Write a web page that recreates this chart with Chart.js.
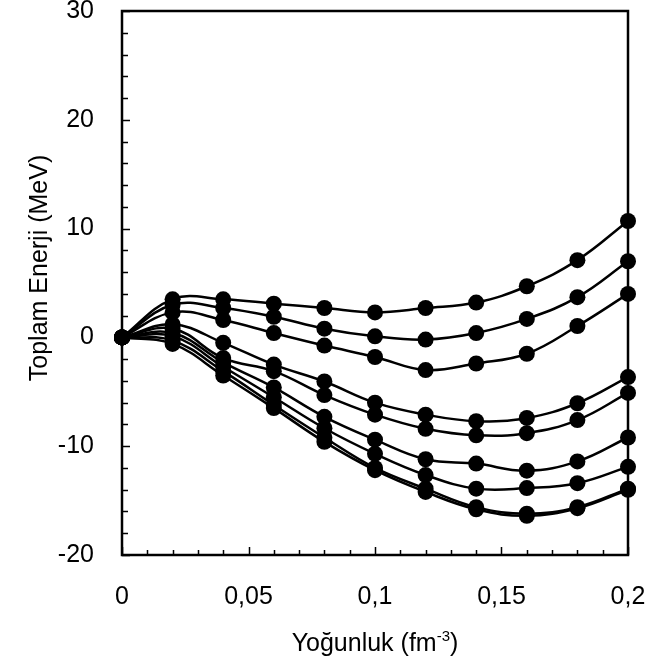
<!DOCTYPE html>
<html>
<head>
<meta charset="utf-8">
<script src="https://cdn.jsdelivr.net/npm/chart.js@4.4.1/dist/chart.umd.min.js"></script>
<style>
  body { margin: 0; background: #fff; }
  #wrap { width: 648px; height: 667px; }
</style>
</head>
<body>
<div id="wrap"><canvas id="energy"></canvas></div>
<script>
// density (fm^-3)
var density = [0, 0.02, 0.04, 0.06, 0.08, 0.1, 0.12, 0.14, 0.16, 0.18, 0.2];

// total energy (MeV), curves from top to bottom
var energy1 = [0, 3.5, 3.5, 3.1, 2.7, 2.3, 2.7, 3.2, 4.7, 7.1, 10.7];
var energy2 = [0, 3.0, 2.7, 1.9, 0.8, 0.1, -0.2, 0.4, 1.7, 3.7, 7.0];
var energy3 = [0, 2.3, 1.6, 0.4, -0.75, -1.8, -3.0, -2.4, -1.5, 1.05, 4.0];
var energy4 = [0, 1.2, -0.5, -2.5, -4.05, -6.0, -7.1, -7.7, -7.4, -6.05, -3.65];
var energy5 = [0, 0.8, -1.9, -3.1, -5.3, -7.1, -8.4, -9.0, -8.8, -7.6, -5.1];
var energy6 = [0, 0.4, -2.3, -4.6, -7.3, -9.4, -11.2, -11.6, -12.25, -11.4, -9.2];
var energy7 = [0, 0.1, -2.7, -5.5, -8.35, -10.7, -12.65, -13.9, -13.85, -13.4, -11.9];
var energy8 = [0, -0.3, -3.1, -6.2, -9.2, -12.0, -13.9, -15.6, -16.2, -15.6, -13.9];
var energy9 = [0, -0.6, -3.5, -6.5, -9.6, -12.2, -14.2, -15.8, -16.4, -15.7, -14.0];

var xTicks = [0, 0.05, 0.1, 0.15, 0.2];
var yTicks = [-20, -10, 0, 10, 20, 30];

var yTitle = "Toplam Enerji (MeV)";
var xTitle = "Yoğunluk (fm";
var xTitleSup = "-3";
var xTitleEnd = ")";

var FONT = '"Liberation Sans", Arial, sans-serif';
Chart.defaults.font.family = FONT;
Chart.defaults.font.size = 25;
Chart.defaults.color = "#000";

function points(ys) {
  return density.map(function (x, i) { return { x: x, y: ys[i] }; });
}

var allSeries = [energy1, energy2, energy3, energy4, energy5, energy6, energy7, energy8, energy9];
var datasets = allSeries.map(function (s) {
  return {
    data: points(s),
    borderColor: "#000",
    backgroundColor: "#000",
    borderWidth: 2.5,
    pointRadius: 8,
    pointBorderWidth: 0,
    pointBackgroundColor: "#000",
    tension: 0.4,
    clip: false
  };
});

// inward ticks, box frame and axis titles
var frame = {
  id: "frame",
  beforeDatasetsDraw: function (chart) {
    var ctx = chart.ctx, a = chart.chartArea;
    var xs = chart.scales.x, ys = chart.scales.y;
    ctx.save();
    ctx.strokeStyle = "#000";
    ctx.lineWidth = 1.5;
    ctx.beginPath();
    for (var i = 0; i <= 20; i++) {
      var px = Math.round(xs.getPixelForValue(i * 0.01)) + 0.5;
      var len = i % 5 === 0 ? 8 : 5;
      ctx.moveTo(px, a.bottom);
      ctx.lineTo(px, a.bottom - len);
    }
    for (var v = -20; v <= 30; v += 2) {
      var py = Math.round(ys.getPixelForValue(v)) + 0.5;
      var l2 = v % 10 === 0 ? 8 : 6;
      ctx.moveTo(a.left, py);
      ctx.lineTo(a.left + l2, py);
    }
    ctx.stroke();
    ctx.lineWidth = 2.5;
    ctx.strokeRect(a.left, a.top, a.right - a.left, a.bottom - a.top);
    ctx.restore();
  },
  afterDraw: function (chart) {
    var ctx = chart.ctx, a = chart.chartArea;
    ctx.save();
    ctx.fillStyle = "#000";
    ctx.font = "25px " + FONT;
    // y title
    ctx.save();
    ctx.translate(47, 268);
    ctx.rotate(-Math.PI / 2);
    ctx.textAlign = "center";
    ctx.textBaseline = "alphabetic";
    ctx.fillText(yTitle, 0, 0);
    ctx.restore();
    // x title with superscript
    var w1 = ctx.measureText(xTitle).width;
    var w3 = ctx.measureText(xTitleEnd).width;
    ctx.font = "15px " + FONT;
    var w2 = ctx.measureText(xTitleSup).width;
    var cx = (a.left + a.right) / 2;
    var x0 = cx - (w1 + w2 + w3) / 2;
    var base = 651;
    ctx.textAlign = "left";
    ctx.textBaseline = "alphabetic";
    ctx.font = "25px " + FONT;
    ctx.fillText(xTitle, x0, base);
    ctx.font = "15px " + FONT;
    ctx.fillText(xTitleSup, x0 + w1, base - 10);
    ctx.font = "25px " + FONT;
    ctx.fillText(xTitleEnd, x0 + w1 + w2, base);
    ctx.restore();
  }
};

new Chart(document.getElementById("energy"), {
  type: "line",
  data: { datasets: datasets },
  options: {
    responsive: true,
    maintainAspectRatio: false,
    animation: false,
    layout: { padding: { top: 11, right: 20, left: 0, bottom: 0 } },
    plugins: { legend: { display: false }, tooltip: { enabled: false } },
    scales: {
      x: {
        type: "linear",
        min: xTicks[0],
        max: xTicks[xTicks.length - 1],
        grid: { display: false },
        border: { display: false },
        afterBuildTicks: function (s) { s.ticks = xTicks.map(function (v) { return { value: v }; }); },
        ticks: {
          padding: 19,
          maxRotation: 0,
          callback: function (v) { return String(Math.round(v * 100) / 100).replace(".", ","); }
        },
        afterFit: function (s) {
          s.height = 112;
          s.paddingLeft = 0; s.paddingRight = 0;
        }
      },
      y: {
        min: yTicks[0],
        max: yTicks[yTicks.length - 1],
        grid: { display: false },
        border: { display: false },
        afterBuildTicks: function (s) { s.ticks = yTicks.map(function (v) { return { value: v }; }); },
        ticks: { padding: 20 },
        afterFit: function (s) {
          s.width = 122;
          s.paddingTop = 0; s.paddingBottom = 0;
        }
      }
    }
  },
  plugins: [frame]
});
</script>
</body>
</html>
